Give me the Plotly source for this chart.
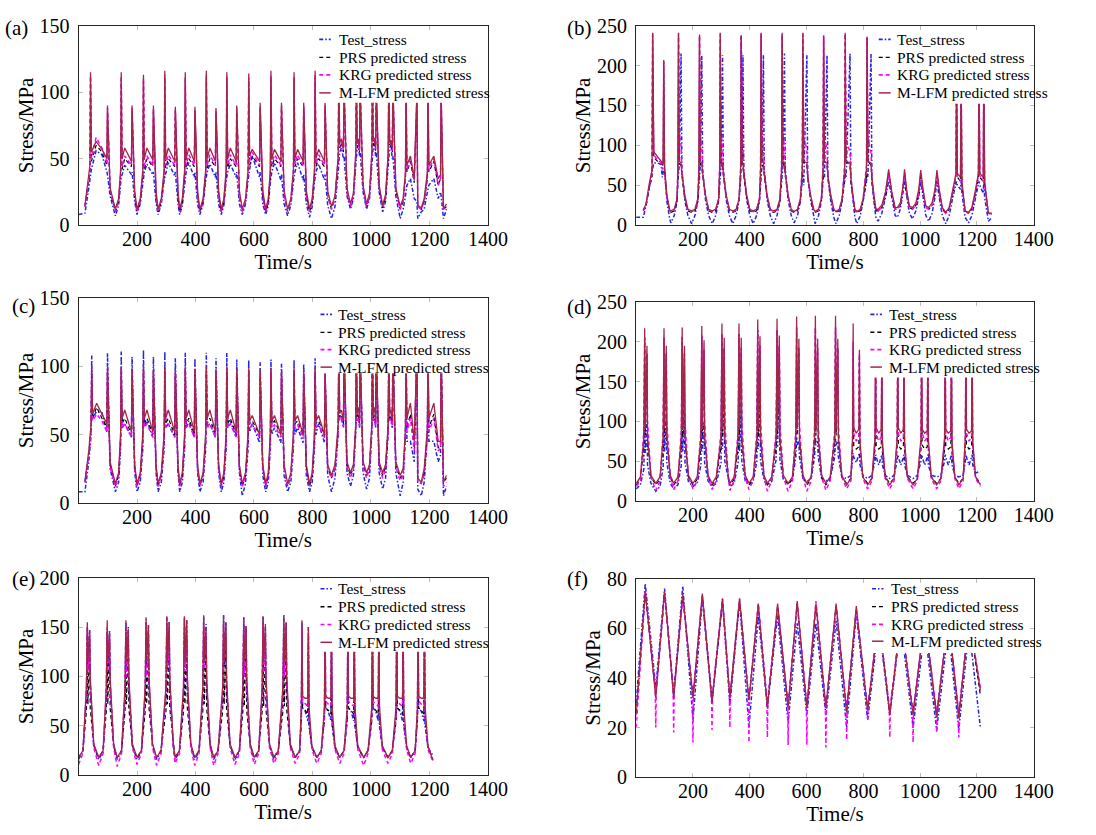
import plotly.graph_objects as go

# ---------------- data ----------------
# Panel (a)
t_a = [0, 22, 35, 39, 41, 44, 60, 80, 97, 99, 108,
       126, 137, 144, 146, 149, 158, 181, 183, 192,
       200, 211, 220, 222, 225, 234, 254, 256, 265,
       272, 283, 293, 295, 298, 307, 329, 331, 340,
       346, 355, 363, 365, 368, 377, 396, 398, 407,
       415, 426, 435, 437, 440, 449, 468, 470, 479,
       488, 497, 505, 507, 510, 519, 539, 541, 550,
       560, 571, 580, 582, 585, 594, 619, 621, 630,
       640, 649, 656, 658, 661, 670, 692, 694, 703,
       715, 726, 735, 737, 740, 749, 768, 770, 779,
       790, 799, 807, 809, 812, 821, 841, 843, 852,
       865, 877, 888, 890, 893, 899, 906, 908, 918,
       930, 940, 948, 950, 953, 957, 961, 963, 973,
       985, 995, 1003, 1005, 1008, 1012, 1016, 1018, 1028,
       1040, 1050, 1059, 1061, 1064, 1068, 1073, 1075, 1085,
       1100, 1110, 1118, 1120, 1123, 1135, 1148, 1157, 1160,
       1172, 1182, 1193, 1195, 1198, 1215, 1230, 1238, 1240, 1248, 1258]
test_a = [8, 9, 28, 33, 35, 42, 56, 53, 40, 38, 22,
          7, 15, 33, 36, 38, 45, 38, 40, 18,
          8, 16, 34, 37, 40, 46, 38, 40, 17,
          8, 16, 34, 36, 40, 47, 37, 40, 16,
          8, 15, 34, 37, 40, 47, 36, 40, 16,
          8, 16, 34, 37, 40, 46, 36, 40, 16,
          8, 15, 34, 37, 40, 46, 36, 40, 16,
          8, 16, 34, 38, 42, 52, 36, 40, 16,
          8, 15, 33, 36, 40, 47, 34, 38, 16,
          7, 15, 33, 36, 40, 47, 34, 38, 16,
          6, 14, 33, 36, 40, 46, 34, 38, 15,
          5, 14, 40, 45, 55, 58, 50, 52, 22,
          12, 20, 45, 50, 58, 60, 52, 55, 25,
          12, 20, 45, 50, 60, 62, 52, 55, 25,
          10, 18, 45, 50, 58, 60, 50, 52, 22,
          5, 12, 22, 25, 30, 35, 20, 18, 5,
          10, 12, 25, 28, 30, 35, 20, 25, 22, 5, 12]
prs_a = [None, 14, 34, 40, 110, 48, 60, 55, 45, 86, 25,
         10, 18, 38, 110, 42, 50, 44, 86, 22,
         10, 18, 38, 108, 42, 50, 44, 86, 22,
         10, 18, 38, 111, 43, 50, 44, 86, 22,
         10, 17, 38, 110, 43, 50, 44, 86, 22,
         10, 18, 38, 111, 43, 50, 44, 85, 22,
         10, 17, 38, 110, 43, 50, 44, 86, 22,
         10, 18, 38, 109, 45, 52, 44, 88, 22,
         10, 17, 38, 111, 44, 50, 44, 88, 22,
         10, 18, 38, 110, 44, 50, 44, 88, 22,
         10, 17, 38, 111, 44, 50, 44, 88, 22,
         12, 20, 48, 110, 58, 62, 55, 100, 25,
         14, 22, 50, 110, 58, 62, 55, 100, 28,
         14, 22, 50, 110, 60, 63, 56, 100, 28,
         13, 21, 50, 110, 60, 62, 55, 100, 26,
         12, 18, 35, 100, 40, 48, 32, 95, 14,
         12, 18, 35, 100, 40, 48, 30, 35, 95, 12, 14]
krg_a = [None, 14, 36, 42, 112, 50, 66, 58, 47, 88, 26,
         10, 18, 38, 112, 44, 52, 45, 88, 22,
         10, 18, 39, 110, 44, 52, 45, 88, 22,
         10, 18, 39, 113, 45, 53, 45, 87, 22,
         10, 18, 39, 112, 45, 53, 45, 87, 22,
         10, 18, 39, 113, 45, 53, 45, 86, 22,
         10, 18, 39, 112, 45, 53, 45, 88, 22,
         10, 18, 39, 111, 47, 55, 45, 90, 22,
         10, 18, 39, 113, 46, 53, 45, 90, 22,
         10, 18, 39, 112, 46, 53, 45, 90, 22,
         10, 18, 39, 113, 46, 53, 45, 90, 22,
         12, 20, 50, 112, 60, 64, 56, 102, 25,
         14, 22, 52, 112, 60, 64, 56, 102, 28,
         14, 22, 52, 112, 62, 66, 57, 102, 28,
         13, 21, 52, 112, 62, 64, 56, 102, 26,
         12, 18, 36, 100, 42, 50, 33, 95, 14,
         12, 18, 36, 100, 42, 50, 30, 35, 95, 12, 14]
mlfm_a = [None, 15, 38, 45, 115, 55, 63, 57, 50, 90, 28,
          12, 20, 42, 115, 50, 58, 48, 90, 26,
          12, 20, 42, 113, 50, 58, 49, 90, 26,
          12, 20, 42, 116, 50, 58, 48, 89, 26,
          12, 20, 42, 115, 50, 58, 48, 89, 26,
          12, 20, 42, 116, 50, 58, 48, 88, 26,
          12, 20, 42, 115, 50, 58, 48, 90, 26,
          12, 20, 42, 114, 52, 57, 48, 92, 26,
          12, 20, 42, 116, 50, 57, 48, 92, 26,
          12, 20, 42, 115, 50, 57, 48, 92, 26,
          12, 20, 42, 116, 50, 57, 48, 92, 26,
          14, 22, 52, 115, 62, 65, 58, 105, 28,
          16, 24, 55, 115, 62, 65, 58, 105, 30,
          16, 24, 55, 115, 63, 65, 58, 105, 30,
          15, 23, 55, 115, 62, 64, 58, 105, 28,
          14, 20, 40, 105, 45, 52, 35, 100, 15,
          13, 20, 40, 105, 45, 52, 35, 38, 100, 12, 16]

# Panel (b)
t_b = [0, 25, 35, 45, 56, 58, 62, 75, 88, 92, 95, 97, 100, 108, 118,
       122, 134, 144, 147, 149, 152, 158, 161, 171, 182,
       195, 207, 217, 221, 223, 226, 231, 234, 244, 255,
       268, 280, 290, 294, 296, 299, 304, 307, 317, 328,
       340, 352, 362, 368, 370, 373, 376, 379, 389, 400,
       412, 424, 434, 438, 440, 443, 448, 451, 461, 472,
       484, 496, 506, 512, 514, 517, 522, 525, 535, 546,
       556, 568, 578, 585, 587, 590, 601, 604, 614, 625,
       630, 642, 652, 658, 660, 663, 672, 675, 685, 696,
       703, 715, 725, 734, 736, 739, 753, 756, 763, 770,
       777, 789, 799, 811, 813, 816, 827, 830, 837, 844,
       852, 865, 878, 889, 900, 912,
       920, 930, 938, 945, 952, 962,
       973, 985, 995, 1002, 1010, 1020,
       1030, 1042, 1052, 1059, 1067, 1078,
       1090, 1102, 1115, 1126, 1128, 1131, 1142, 1144, 1147, 1158,
       1170, 1182, 1195, 1205, 1207, 1210, 1222, 1224, 1227, 1240, 1253]
test_b = [10, 10, 25, 45, 68, 75, 78, 78, 76, 60, 65, 70, 70, 30, 8,
          3, 12, 30, 58, 70, 75, 215, 70, 32, 12,
          2, 12, 30, 58, 70, 75, 212, 70, 32, 12,
          2, 12, 30, 58, 70, 75, 213, 70, 32, 12,
          2, 12, 30, 60, 237, 75, 213, 70, 32, 12,
          2, 12, 30, 58, 70, 75, 213, 70, 32, 12,
          2, 12, 30, 58, 70, 75, 215, 70, 32, 12,
          3, 12, 30, 55, 65, 50, 213, 60, 32, 12,
          2, 12, 30, 55, 65, 60, 213, 60, 30, 10,
          2, 12, 30, 55, 65, 60, 215, 55, 30, 10,
          2, 12, 30, 55, 65, 60, 215, 55, 30, 10,
          5, 15, 35, 55, 35, 12,
          10, 20, 38, 55, 38, 15,
          8, 18, 36, 55, 36, 12,
          5, 15, 35, 55, 35, 12,
          2, 12, 35, 50, 55, 50, 45, 55, 40, 10,
          3, 12, 35, 50, 55, 50, 40, 55, 35, 5, 10]
prs_b = [None, 18, 25, 45, 60, 238, 85, 80, 78, 76, 75, 205, 70, 35, 18,
         16, 18, 30, 60, 238, 77, 75, 62, 35, 18,
         16, 18, 30, 60, 236, 77, 72, 62, 35, 18,
         16, 18, 30, 60, 238, 77, 72, 62, 35, 18,
         16, 18, 30, 60, 235, 77, 72, 62, 35, 18,
         16, 18, 30, 60, 238, 77, 72, 62, 35, 18,
         16, 18, 30, 60, 238, 77, 72, 62, 35, 18,
         16, 18, 30, 60, 238, 78, 75, 60, 35, 18,
         16, 18, 30, 60, 236, 80, 75, 60, 35, 18,
         16, 18, 30, 60, 240, 80, 75, 55, 35, 18,
         16, 18, 30, 60, 235, 80, 75, 55, 35, 18,
         18, 22, 38, 65, 38, 20,
         20, 25, 40, 65, 40, 22,
         20, 25, 40, 65, 40, 22,
         20, 25, 40, 65, 40, 20,
         15, 20, 40, 60, 200, 60, 55, 200, 50, 18,
         15, 20, 40, 60, 200, 60, 55, 200, 50, 15, 14]
krg_b = [None, 18, 26, 47, 65, 240, 88, 82, 78, 70, 72, 206, 65, 36, 18,
         17, 19, 32, 75, 240, 115, 100, 65, 36, 19,
         17, 19, 32, 75, 238, 112, 100, 65, 36, 19,
         17, 19, 32, 75, 240, 115, 100, 65, 36, 19,
         17, 19, 32, 75, 238, 115, 100, 65, 36, 19,
         17, 19, 32, 75, 240, 115, 100, 65, 36, 19,
         17, 19, 32, 75, 240, 112, 100, 65, 36, 19,
         17, 19, 32, 75, 240, 110, 95, 60, 36, 19,
         17, 19, 32, 75, 238, 110, 95, 60, 36, 19,
         17, 19, 32, 75, 240, 110, 90, 60, 36, 19,
         17, 19, 32, 75, 236, 110, 90, 60, 36, 19,
         18, 22, 40, 63, 40, 20,
         20, 25, 42, 63, 42, 22,
         20, 25, 42, 63, 42, 22,
         20, 25, 42, 63, 42, 20,
         15, 20, 42, 62, 200, 62, 55, 200, 50, 18,
         15, 20, 42, 62, 200, 62, 55, 200, 50, 15, 14]
mlfm_b = [None, 19, 27, 50, 70, 241, 92, 86, 80, 78, 77, 207, 72, 38, 19,
          18, 20, 33, 70, 241, 80, 78, 65, 38, 20,
          18, 20, 33, 70, 239, 80, 78, 65, 38, 20,
          18, 20, 33, 70, 241, 80, 78, 65, 38, 20,
          18, 20, 33, 70, 238, 80, 78, 65, 38, 20,
          18, 20, 33, 70, 241, 80, 78, 65, 38, 20,
          18, 20, 33, 70, 241, 80, 78, 65, 38, 20,
          17, 20, 33, 70, 241, 80, 78, 62, 38, 20,
          17, 20, 33, 70, 237, 80, 78, 62, 38, 20,
          17, 20, 33, 70, 241, 80, 78, 60, 38, 20,
          17, 20, 33, 70, 236, 80, 78, 60, 38, 20,
          20, 25, 42, 70, 42, 22,
          22, 28, 45, 70, 45, 24,
          22, 28, 45, 69, 45, 24,
          22, 28, 45, 69, 45, 22,
          16, 22, 45, 65, 200, 65, 60, 200, 55, 18,
          16, 22, 45, 65, 200, 65, 60, 200, 55, 15, 15]

# Panel (c)
t_c = [0, 22, 35, 43, 45, 48, 62, 80, 97, 99, 108,
       126, 137, 144, 146, 149, 158, 181, 183, 192,
       200, 211, 220, 222, 225, 234, 254, 256, 265,
       272, 283, 293, 295, 298, 307, 329, 331, 340,
       346, 355, 363, 365, 368, 377, 396, 398, 407,
       415, 426, 435, 437, 440, 449, 468, 470, 479,
       488, 497, 505, 507, 510, 519, 539, 541, 550,
       560, 571, 580, 582, 585, 594, 619, 621, 630,
       640, 649, 656, 658, 661, 670, 692, 694, 703,
       715, 726, 735, 737, 740, 749, 768, 770, 779,
       790, 799, 807, 809, 812, 821, 841, 843, 852,
       865, 877, 888, 890, 893, 899, 906, 908, 918,
       930, 940, 948, 950, 953, 957, 961, 963, 973,
       985, 995, 1003, 1005, 1008, 1012, 1016, 1018, 1028,
       1040, 1050, 1059, 1061, 1064, 1068, 1073, 1075, 1085,
       1100, 1110, 1118, 1120, 1123, 1135, 1148, 1157, 1160,
       1172, 1182, 1193, 1195, 1198, 1215, 1230, 1238, 1240, 1248, 1258]
test_c = [8, 8, 30, 50, 108, 62, 67, 66, 52, 110, 25,
          8, 15, 40, 111, 55, 58, 48, 107, 22,
          8, 15, 40, 112, 56, 60, 48, 107, 22,
          8, 15, 40, 111, 55, 58, 48, 106, 22,
          8, 15, 40, 110, 55, 60, 48, 106, 22,
          8, 15, 40, 110, 56, 58, 48, 106, 22,
          8, 15, 40, 110, 55, 60, 48, 105, 22,
          5, 14, 40, 105, 52, 58, 44, 103, 20,
          8, 15, 40, 105, 50, 55, 44, 102, 20,
          8, 15, 40, 105, 50, 55, 44, 102, 20,
          8, 15, 40, 106, 50, 58, 44, 95, 20,
          8, 18, 50, 110, 65, 62, 55, 110, 22,
          12, 20, 52, 110, 65, 62, 55, 110, 22,
          10, 18, 52, 110, 65, 62, 55, 110, 22,
          10, 18, 52, 110, 62, 60, 55, 110, 22,
          5, 15, 50, 110, 45, 45, 30, 110, 10,
          5, 15, 50, 110, 45, 45, 30, 35, 110, 5, 12]
prs_c = [None, 15, 35, 55, 95, 62, 70, 62, 55, 95, 28,
         12, 20, 48, 96, 58, 62, 50, 94, 26,
         12, 20, 48, 97, 58, 62, 50, 94, 26,
         12, 20, 48, 96, 58, 62, 50, 94, 26,
         12, 20, 48, 96, 58, 62, 50, 94, 26,
         12, 20, 48, 96, 58, 62, 50, 94, 26,
         12, 20, 48, 96, 58, 62, 50, 94, 26,
         12, 20, 48, 95, 58, 60, 50, 93, 26,
         12, 20, 48, 95, 58, 60, 50, 93, 26,
         12, 20, 48, 95, 58, 60, 50, 93, 26,
         12, 20, 48, 95, 58, 60, 50, 93, 26,
         18, 25, 55, 110, 62, 64, 58, 110, 28,
         20, 26, 56, 110, 62, 64, 58, 110, 28,
         20, 26, 56, 110, 62, 64, 58, 110, 28,
         20, 26, 56, 110, 62, 64, 58, 110, 28,
         18, 22, 50, 110, 55, 65, 40, 110, 18,
         15, 22, 50, 110, 55, 65, 40, 42, 110, 15, 18]
krg_c = [None, 15, 35, 52, 98, 60, 65, 60, 52, 96, 26,
         12, 20, 45, 98, 55, 58, 48, 96, 25,
         12, 20, 45, 98, 55, 58, 48, 96, 25,
         12, 20, 45, 98, 55, 58, 48, 96, 25,
         12, 20, 45, 98, 55, 58, 48, 96, 25,
         12, 20, 45, 98, 55, 58, 48, 96, 25,
         12, 20, 45, 98, 55, 58, 48, 96, 25,
         12, 20, 45, 97, 55, 57, 48, 95, 25,
         12, 20, 45, 97, 55, 57, 48, 95, 25,
         12, 20, 45, 97, 55, 57, 48, 95, 25,
         12, 20, 45, 97, 55, 57, 48, 95, 25,
         18, 25, 52, 110, 60, 62, 56, 110, 26,
         18, 25, 52, 110, 60, 62, 56, 110, 26,
         18, 25, 52, 110, 60, 62, 56, 110, 26,
         18, 25, 52, 110, 60, 62, 56, 110, 26,
         16, 20, 48, 110, 52, 62, 38, 110, 15,
         14, 20, 48, 110, 52, 62, 38, 40, 110, 12, 15]
mlfm_c = [None, 16, 38, 58, 100, 65, 73, 65, 58, 100, 30,
          14, 22, 52, 100, 62, 68, 52, 98, 28,
          14, 22, 52, 101, 62, 68, 52, 98, 28,
          14, 22, 52, 100, 62, 68, 52, 98, 28,
          14, 22, 52, 100, 62, 68, 52, 98, 28,
          14, 22, 52, 100, 62, 68, 52, 98, 28,
          14, 22, 52, 100, 62, 68, 52, 98, 28,
          14, 22, 52, 99, 60, 64, 50, 97, 28,
          14, 22, 52, 99, 60, 64, 50, 97, 28,
          14, 22, 52, 99, 60, 64, 50, 97, 28,
          14, 22, 52, 99, 60, 64, 50, 96, 28,
          20, 28, 58, 110, 66, 68, 60, 110, 30,
          22, 28, 58, 110, 66, 70, 60, 110, 30,
          22, 28, 58, 110, 66, 70, 60, 110, 30,
          22, 28, 58, 110, 66, 68, 60, 110, 30,
          20, 25, 55, 110, 62, 73, 45, 110, 18,
          15, 25, 55, 110, 62, 73, 45, 45, 110, 15, 20]

# Panels (d) and (e) share the same time keypoints
t_de = [0, 15, 27, 30, 32, 38, 40, 52,
        69, 84, 95, 98, 100, 106, 108, 120,
        132, 147, 159, 162, 164, 170, 172, 184,
        200, 215, 228, 231, 233, 239, 241, 253,
        267, 282, 299, 302, 304, 310, 312, 324,
        330, 345, 359, 362, 364, 370, 372, 384,
        397, 412, 425, 428, 430, 436, 438, 450,
        462, 477, 493, 496, 498, 504, 506, 518,
        535, 550, 562, 565, 567, 573, 575, 587,
        601, 616, 628, 631, 633, 639, 641, 653,
        668, 683, 699, 702, 704, 710, 712, 724,
        741, 756, 762, 764, 766, 775, 784, 786, 788, 798,
        815, 830, 841, 843, 845, 854, 863, 865, 867, 877,
        893, 908, 919, 921, 923, 932, 941, 943, 945, 955,
        975, 990, 1003, 1005, 1007, 1016, 1025, 1027, 1029, 1039,
        1058, 1073, 1086, 1088, 1090, 1099, 1108, 1110, 1112, 1122,
        1136, 1151, 1159, 1161, 1163, 1172, 1181, 1183, 1185, 1195,
        1212]
test_d = [15, 20, 40, 110, 60, 100, 45, 22,
          12, 18, 42, 120, 62, 105, 48, 22,
          15, 20, 45, 130, 62, 110, 48, 24,
          18, 22, 45, 120, 62, 100, 48, 25,
          18, 22, 48, 200, 65, 150, 50, 25,
          18, 22, 48, 150, 62, 120, 50, 25,
          20, 24, 50, 165, 65, 130, 50, 26,
          20, 24, 52, 190, 68, 180, 52, 27,
          22, 26, 55, 80, 70, 75, 55, 28,
          24, 28, 55, 80, 70, 75, 55, 28,
          25, 28, 55, 78, 70, 75, 55, 30,
          28, 32, 50, 60, 55, 48, 58, 60, 45, 32,
          28, 32, 50, 58, 55, 45, 55, 58, 45, 32,
          28, 32, 50, 58, 55, 45, 55, 58, 45, 32,
          28, 32, 50, 58, 55, 45, 55, 58, 45, 32,
          30, 32, 50, 58, 55, 45, 55, 58, 45, 32,
          30, 32, 50, 58, 55, 45, 55, 58, 45, 35,
          37]
prs_d = [20, 27, 68, 205, 82, 185, 75, 30,
         20, 27, 68, 205, 80, 185, 75, 30,
         20, 27, 68, 206, 80, 185, 75, 30,
         20, 27, 68, 208, 82, 190, 75, 30,
         20, 27, 68, 210, 82, 192, 75, 30,
         20, 27, 68, 210, 82, 192, 75, 30,
         20, 27, 68, 215, 82, 195, 75, 30,
         20, 27, 68, 215, 82, 195, 75, 30,
         20, 27, 68, 218, 82, 192, 75, 30,
         20, 27, 68, 218, 82, 192, 75, 30,
         20, 27, 68, 218, 82, 192, 75, 30,
         22, 28, 65, 190, 70, 65, 68, 180, 60, 30,
         22, 28, 65, 190, 70, 65, 68, 190, 60, 30,
         22, 28, 65, 190, 70, 65, 68, 190, 60, 30,
         22, 28, 65, 190, 70, 65, 68, 190, 60, 30,
         22, 28, 65, 190, 70, 65, 68, 190, 60, 30,
         22, 28, 65, 190, 70, 65, 68, 190, 60, 30,
         22]
krg_d = [18, 25, 88, 205, 120, 185, 100, 30,
         13, 25, 88, 205, 118, 185, 100, 30,
         14, 25, 88, 206, 120, 185, 100, 30,
         15, 25, 88, 208, 122, 190, 100, 30,
         14, 25, 88, 210, 125, 192, 100, 30,
         13, 25, 88, 210, 120, 192, 100, 30,
         14, 25, 88, 215, 125, 195, 100, 30,
         12, 25, 88, 215, 130, 195, 100, 30,
         12, 25, 88, 218, 110, 192, 95, 30,
         12, 25, 88, 218, 110, 192, 95, 30,
         13, 25, 88, 218, 110, 192, 95, 30,
         15, 25, 75, 200, 85, 75, 80, 185, 70, 28,
         15, 25, 75, 200, 85, 75, 80, 190, 70, 28,
         15, 25, 75, 200, 85, 75, 80, 190, 70, 28,
         15, 25, 75, 200, 85, 75, 80, 190, 70, 28,
         15, 25, 75, 200, 85, 75, 80, 190, 70, 28,
         15, 25, 75, 200, 85, 75, 80, 190, 70, 28,
         18]
mlfm_d = [22, 30, 80, 217, 90, 195, 80, 32,
          22, 30, 80, 217, 90, 195, 80, 32,
          22, 30, 80, 218, 90, 195, 80, 32,
          22, 30, 80, 220, 90, 202, 80, 32,
          22, 30, 80, 223, 90, 205, 80, 32,
          22, 30, 80, 223, 90, 205, 80, 32,
          22, 30, 80, 228, 90, 207, 80, 32,
          22, 30, 80, 229, 90, 208, 80, 32,
          22, 30, 80, 232, 90, 204, 80, 32,
          22, 30, 80, 233, 90, 204, 80, 32,
          22, 30, 80, 233, 90, 204, 80, 32,
          20, 28, 80, 223, 92, 85, 90, 190, 75, 30,
          20, 28, 80, 200, 92, 85, 90, 200, 75, 30,
          20, 28, 80, 200, 92, 85, 90, 200, 75, 30,
          20, 28, 80, 200, 90, 85, 88, 200, 75, 30,
          20, 28, 80, 200, 90, 85, 88, 200, 75, 30,
          20, 28, 80, 200, 90, 85, 88, 200, 75, 30,
          20]

test_e = [16, 24, 80, 150, 110, 147, 90, 30,
          16, 24, 80, 145, 110, 146, 90, 30,
          16, 24, 80, 155, 110, 150, 90, 30,
          16, 24, 80, 158, 110, 152, 90, 30,
          16, 24, 80, 160, 110, 155, 90, 30,
          16, 24, 80, 160, 110, 157, 90, 30,
          16, 24, 80, 161, 110, 153, 90, 30,
          16, 24, 80, 162, 110, 155, 90, 30,
          16, 24, 80, 160, 110, 151, 90, 30,
          16, 24, 80, 161, 110, 150, 90, 30,
          16, 24, 80, 162, 110, 155, 90, 30,
          18, 25, 60, 155, 68, 65, 55, 150, 50, 28,
          18, 25, 60, 160, 68, 65, 55, 160, 50, 28,
          18, 25, 60, 160, 68, 65, 55, 160, 50, 28,
          18, 25, 60, 160, 68, 65, 55, 160, 50, 28,
          18, 25, 60, 160, 68, 65, 55, 160, 50, 28,
          18, 25, 60, 160, 68, 65, 55, 160, 50, 28,
          20]
prs_e = [18, 25, 65, 140, 72, 135, 68, 30,
         18, 25, 65, 140, 72, 135, 68, 30,
         18, 25, 65, 140, 72, 135, 68, 30,
         18, 25, 65, 140, 72, 135, 68, 30,
         18, 25, 65, 140, 72, 135, 68, 30,
         18, 25, 65, 140, 72, 135, 68, 30,
         18, 25, 65, 140, 72, 135, 68, 30,
         18, 25, 65, 140, 72, 135, 68, 30,
         18, 25, 65, 140, 70, 135, 66, 30,
         18, 25, 65, 140, 70, 135, 66, 30,
         18, 25, 65, 140, 70, 135, 66, 30,
         18, 25, 55, 140, 68, 66, 62, 130, 55, 28,
         18, 25, 55, 140, 68, 66, 62, 130, 55, 28,
         18, 25, 55, 140, 68, 66, 62, 130, 55, 28,
         18, 25, 55, 140, 68, 66, 62, 130, 55, 28,
         18, 25, 55, 140, 68, 66, 62, 130, 55, 28,
         18, 25, 55, 140, 68, 66, 62, 130, 55, 28,
         16]
krg_e = [11, 22, 85, 150, 105, 140, 95, 28,
         10, 22, 85, 150, 105, 140, 95, 28,
         9, 22, 85, 150, 100, 140, 95, 28,
         11, 22, 85, 152, 100, 142, 95, 28,
         10, 22, 85, 152, 105, 142, 95, 28,
         12, 22, 85, 152, 105, 142, 95, 28,
         10, 22, 85, 152, 110, 142, 95, 28,
         10, 22, 85, 152, 120, 142, 95, 28,
         11, 22, 85, 152, 100, 142, 90, 28,
         11, 22, 85, 152, 100, 142, 90, 28,
         12, 22, 85, 152, 100, 142, 90, 28,
         12, 22, 60, 150, 75, 72, 70, 140, 60, 26,
         12, 22, 60, 150, 75, 72, 70, 140, 60, 26,
         12, 22, 60, 150, 75, 72, 70, 140, 60, 26,
         10, 22, 60, 150, 75, 72, 70, 140, 60, 26,
         12, 22, 60, 150, 75, 72, 70, 140, 60, 26,
         12, 22, 60, 150, 75, 72, 70, 140, 60, 26,
         14]
mlfm_e = [18, 25, 90, 155, 115, 147, 100, 32,
          18, 25, 90, 157, 115, 146, 100, 32,
          18, 25, 90, 157, 115, 147, 100, 32,
          18, 25, 90, 160, 115, 152, 100, 32,
          18, 25, 90, 161, 115, 155, 100, 32,
          18, 25, 90, 161, 115, 157, 100, 32,
          18, 25, 90, 162, 115, 150, 100, 32,
          18, 25, 90, 162, 115, 155, 100, 32,
          18, 25, 90, 160, 115, 151, 100, 32,
          18, 25, 90, 161, 115, 153, 100, 32,
          18, 25, 90, 162, 115, 155, 100, 32,
          18, 25, 70, 157, 80, 78, 78, 150, 70, 30,
          18, 25, 70, 160, 80, 78, 78, 160, 70, 30,
          18, 25, 70, 160, 80, 78, 78, 160, 70, 30,
          18, 25, 70, 160, 80, 78, 78, 160, 70, 30,
          18, 25, 70, 160, 80, 78, 78, 160, 70, 30,
          18, 25, 70, 160, 80, 78, 78, 160, 70, 30,
          15]

# Panel (f)
t_f = [0, 32, 69, 100, 132, 164, 200, 233, 267, 304, 330, 364, 397, 430, 462, 498,
       535, 567, 601, 633, 668, 704, 741, 775, 815, 854, 893, 932, 975, 1016, 1058,
       1099, 1136, 1172, 1212]
test_f = [30, 78, 36, 76, 33, 77, 23, 72, 30, 71, 29, 71, 20, 65, 28, 65,
          22, 62, 25, 62, 25, 63, 20, 66, 23, 62, 25, 62, 20, 60, 19,
          60, 19, 60, 20]
prs_f = [26, 74, 33, 74, 33, 73, 32, 73, 31, 71, 32, 71, 31, 69, 29, 69,
         29, 70, 28, 69, 28, 69, 27, 68, 27, 64, 26, 64, 26, 64, 25,
         64, 25, 64, 33]
mlfm_f = [25, 75, 32, 75, 32, 74, 32, 74, 30, 72, 32, 72, 31, 70, 28, 70,
          28, 71, 28, 70, 28, 70, 26, 69, 27, 65, 25, 65, 25, 65, 24,
          65, 24, 65, 35]
t_f_krg = [0, 32, 67, 69, 71, 100, 130, 132, 134, 164, 198, 200, 202, 233,
           265, 267, 269, 304, 328, 330, 332, 364, 395, 397, 399, 430,
           460, 462, 464, 498, 533, 535, 537, 567, 599, 601, 603, 633,
           666, 668, 670, 704, 739, 741, 743, 775, 813, 815, 817, 854,
           891, 893, 895, 932, 973, 975, 977, 1016, 1056, 1058, 1060, 1099,
           1134, 1136, 1138, 1172, 1212]
krg_f = [20, 75, 36, 20, 36, 74, 36, 18, 36, 72, 35, 14, 35, 73,
         34, 19, 34, 72, 34, 20, 34, 72, 33, 14, 33, 70,
         32, 16, 32, 68, 31, 13, 31, 70, 31, 13, 31, 71,
         30, 12, 30, 69, 30, 15, 30, 67, 30, 23, 30, 64,
         29, 16, 29, 64, 28, 14, 28, 64, 28, 18, 28, 64,
         28, 16, 28, 64, 36]

series_names = ["Test_stress", "PRS predicted stress", "KRG predicted stress",
                "M-LFM predicted stress"]
panel_labels = ["(a)", "(b)", "(c)", "(d)", "(e)", "(f)"]
x_ticks = [200, 400, 600, 800, 1000, 1200, 1400]

# ---------------- styling / layout ----------------
FONT = "'Liberation Serif', 'Times New Roman', 'DejaVu Serif', serif"
colors = ["#2424e6", "#000000", "#ff00ff", "#a3264a"]
dashes = ["4px,2px,1.5px,2px", "4px,3px", "4px,3px", "solid"]
widths = [1.5, 1.2, 1.5, 1.3]

W, H = 1096, 835

def px_dom_x(x0, x1):
    return [x0 / W, x1 / W]

def px_dom_y(y0, y1):
    return [1 - y1 / H, 1 - y0 / H]

panels = [
    dict(t=[t_a] * 4, y=[test_a, prs_a, krg_a, mlfm_a], ymax=150, dt=50,
         xd=px_dom_x(80, 497), yd=px_dom_y(15, 220), lab=(3, 17),
         box=(0.585, 0.613), ent=[0.931, 0.841, 0.753, 0.663], sym=(0.588, 0.616), txt=0.631),
    dict(t=[t_b] * 4, y=[test_b, prs_b, krg_b, mlfm_b], ymax=250, dt=50,
         xd=px_dom_x(648, 1053), yd=px_dom_y(15, 220), lab=(575, 17),
         box=(0.603, 0.608), ent=[0.931, 0.841, 0.753, 0.663], sym=(0.610, 0.640), txt=0.651),
    dict(t=[t_c] * 4, y=[test_c, prs_c, krg_c, mlfm_c], ymax=150, dt=50,
         xd=px_dom_x(80, 497), yd=px_dom_y(295, 505), lab=(10, 303),
         box=(0.585, 0.633), ent=[0.921, 0.833, 0.749, 0.663], sym=(0.591, 0.619), txt=0.630),
    dict(t=[t_de] * 4, y=[test_d, prs_d, krg_d, mlfm_d], ymax=250, dt=50,
         xd=px_dom_x(648, 1053), yd=px_dom_y(299, 503), lab=(575, 304),
         box=(0.585, 0.620), ent=[0.938, 0.848, 0.761, 0.673], sym=(0.589, 0.618), txt=0.630),
    dict(t=[t_de] * 4, y=[test_e, prs_e, krg_e, mlfm_e], ymax=200, dt=50,
         xd=px_dom_x(80, 497), yd=px_dom_y(582, 785), lab=(10, 583),
         box=(0.585, 0.625), ent=[0.944, 0.853, 0.763, 0.673], sym=(0.591, 0.619), txt=0.630),
    dict(t=[t_f, t_f, t_f_krg, t_f], y=[test_f, prs_f, krg_f, mlfm_f], ymax=80, dt=20,
         xd=px_dom_x(648, 1053), yd=px_dom_y(583, 787), lab=(575, 583),
         box=(0.585, 0.625), ent=[0.949, 0.859, 0.770, 0.685], sym=(0.593, 0.622), txt=0.635),
]

fig = go.Figure()
layout = dict(width=W, height=H, margin=dict(l=0, r=0, t=0, b=0),
              paper_bgcolor="white", plot_bgcolor="white", showlegend=False,
              font=dict(family=FONT, color="black"))
shapes, annotations = [], []

for i, p in enumerate(panels):
    n = i + 1
    sfx = "" if n == 1 else str(n)
    xa, ya = "x" + sfx, "y" + sfx
    for k in range(4):
        tt, yy = p["t"][k], p["y"][k]
        if len(tt) != len(yy):
            raise ValueError(f"panel {n} series {k}: {len(tt)} vs {len(yy)}")
        fig.add_trace(go.Scatter(
            x=tt, y=yy, mode="lines", name=series_names[k], xaxis=xa, yaxis=ya,
            line=dict(color=colors[k], width=widths[k], dash=dashes[k]),
            connectgaps=False, hoverinfo="skip"))
    common = dict(ticks="inside", ticklen=4, tickwidth=1, tickcolor="#bdbdbd",
                  showline=True, linecolor="#262626", linewidth=1.3, mirror="ticks",
                  showgrid=False, zeroline=False,
                  tickfont=dict(family=FONT, size=20, color="black"))
    layout["xaxis" + sfx] = dict(domain=p["xd"], anchor=ya, range=[0, 1400],
                                 tickmode="array", tickvals=x_ticks,
                                 ticklabelstandoff=-4,
                                 title=dict(text="Time/s", standoff=2,
                                            font=dict(family=FONT, size=21, color="black")),
                                 **common)
    layout["yaxis" + sfx] = dict(domain=p["yd"], anchor=xa, range=[0, p["ymax"]],
                                 tickmode="linear", tick0=0, dtick=p["dt"],
                                 ticklabelstandoff=4,
                                 title=dict(text="Stress/MPa", standoff=0,
                                            font=dict(family=FONT, size=21, color="black")),
                                 **common)
    xd, yd = xa + " domain", ya + " domain"
    # legend box (opaque, sits over the curves like the original)
    shapes.append(dict(type="rect", xref=xd, yref=yd, x0=p["box"][0], x1=0.986,
                       y0=p["box"][1], y1=0.976, fillcolor="white",
                       line=dict(width=0), layer="above"))
    for k in range(4):
        shapes.append(dict(type="line", xref=xd, yref=yd, x0=p["sym"][0], x1=p["sym"][1],
                           y0=p["ent"][k], y1=p["ent"][k], layer="above",
                           line=dict(color=colors[k], width=widths[k] + 0.2, dash=dashes[k])))
        annotations.append(dict(xref=xd, yref=yd, x=p["txt"], y=p["ent"][k],
                                text=series_names[k], showarrow=False,
                                xanchor="left", yanchor="middle",
                                font=dict(family=FONT, size=15.5, color="black")))
    annotations.append(dict(xref="paper", yref="paper", x=p["lab"][0] / W,
                            y=1 - p["lab"][1] / H, text=panel_labels[i], showarrow=False,
                            xanchor="left", yanchor="middle",
                            font=dict(family=FONT, size=21, color="black")))

layout["shapes"] = shapes
layout["annotations"] = annotations
fig.update_layout(**layout)
fig.write_html("out.html")
